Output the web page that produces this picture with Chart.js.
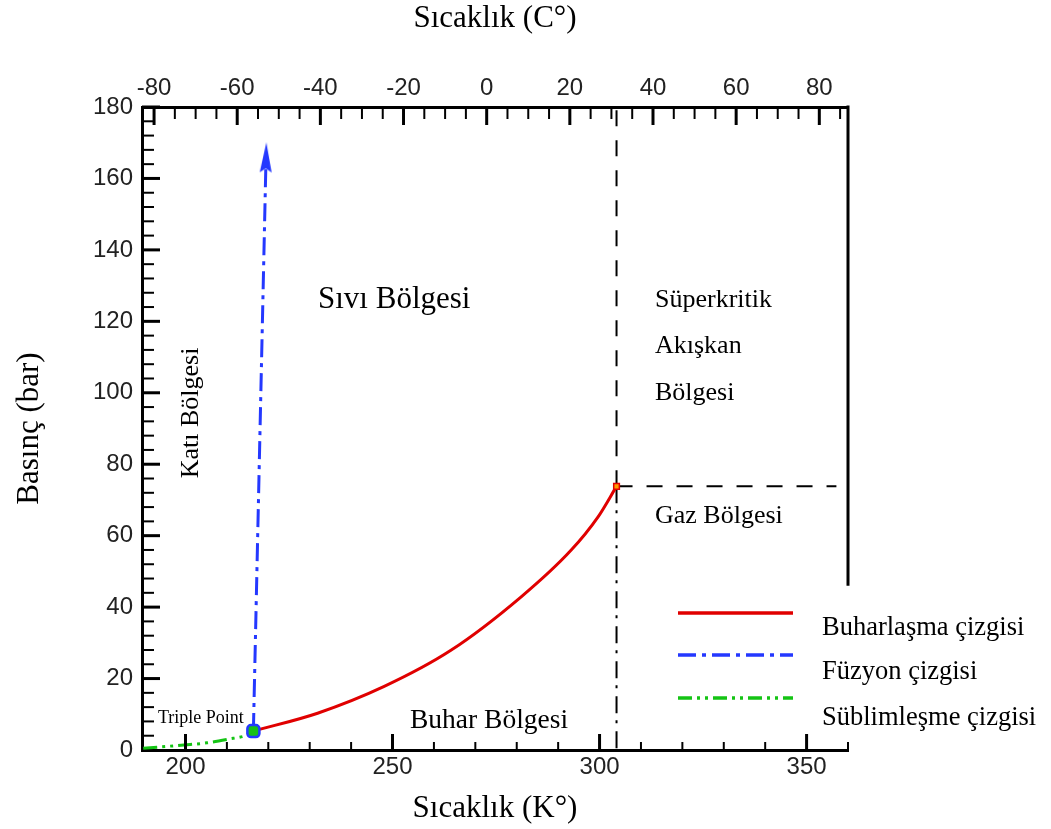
<!DOCTYPE html>
<html><head><meta charset="utf-8">
<script src="https://cdn.jsdelivr.net/npm/chart.js@4/dist/chart.umd.min.js"></script>
<style>html,body{margin:0;padding:0;background:#fff;}</style>
</head><body>
<canvas id="c" width="1051" height="829"></canvas>
<script>
// ---- data ----
const kelvinRange = [189.5, 360];
const celsiusRange = [-82.9, 86.9];
const pressureRange = [0, 180];

const kelvinTickLabels = [200, 250, 300, 350];
const celsiusTickLabels = [-80, -60, -40, -20, 0, 20, 40, 60, 80];
const pressureTickLabels = [0, 20, 40, 60, 80, 100, 120, 140, 160, 180];
const kelvinMinorStep = 10, celsiusMinorStep = 5, pressureMinorStep = 4;

const vapTemps = [216.4, 231.9, 248.0, 264.1, 281.0, 293.1, 299.6, 304.1];
const vapPress = [5.3, 10.3, 17.8, 27.9, 42.8, 55.9, 65.2, 73.8];
const fusTemps = [216.4, 219.45];
const fusPress = [5.3, 165.6];
const subTemps = [189.8, 199.6, 205.2, 210.1, 214.9, 216.4];
const subPress = [0.5, 1.4, 2.0, 3.0, 4.2, 5.3];
const triplePoint = [216.4, 5.3];
const criticalPoint = [304.1, 73.8];
const criticalLineEndK = 357.2;

const seriesNames = ['Buharlaşma çizgisi', 'Füzyon çizgisi', 'Süblimleşme çizgisi'];
const seriesColors = ['#e00000', '#2438ff', '#14c414'];
const seriesDashes = [[], [18, 6, 4, 6], [14, 5, 3, 5, 3, 5]];

const toPts = (xs, ys) => xs.map((x, i) => ({x, y: ys[i]}));
const stepTicks = (range, step) => {
  const out = [];
  for (let k = Math.ceil(range[0] / step); k * step <= range[1] + 1e-9; k++) out.push({value: Math.round(k * step * 1000) / 1000});
  return out;
};

// arrow head for the fusion line
const arrow = document.createElement('canvas');
arrow.width = 14; arrow.height = 32;
(() => { const g = arrow.getContext('2d'); g.fillStyle = seriesColors[1];
  g.beginPath(); g.moveTo(7, 0); g.lineTo(13, 30); g.lineTo(7, 26); g.lineTo(1, 30); g.closePath(); g.fill(); })();

const serif = '"Liberation Serif", "Times New Roman", serif';
const sans = '"Liberation Sans", Arial, sans-serif';

const labelsPlugin = {
  id: 'labelsPlugin',
  afterDraw(chart) {
    const ctx = chart.ctx, a = chart.chartArea;
    const sx = chart.scales.x, sx2 = chart.scales.x2, sy = chart.scales.y;
    ctx.save();
    ctx.strokeStyle = '#000';
    const line = (x1, y1, x2, y2, w) => { ctx.lineWidth = w; ctx.beginPath(); ctx.moveTo(x1, y1); ctx.lineTo(x2, y2); ctx.stroke(); };
    // inner ticks
    sx.ticks.forEach(t => { const v = t.value; const p = sx.getPixelForValue(v);
      if (p < a.left + 4) return; const mj = kelvinTickLabels.includes(v); line(p, a.bottom, p, a.bottom - (mj ? 16 : 8), mj ? 3 : 2); });
    sx2.ticks.forEach(t => { const v = t.value; const p = sx2.getPixelForValue(v);
      if (p < a.left + 4 || p > a.right - 4) return; const mj = celsiusTickLabels.includes(v); line(p, a.top, p, a.top + (mj ? 18 : 12), mj ? 3 : 2); });
    sy.ticks.forEach(t => { const v = t.value; const p = sy.getPixelForValue(v);
      if (p > a.bottom - 4) return; const mj = pressureTickLabels.includes(v); line(a.left, p, a.left + (mj ? 18 : 12), p, mj ? 3 : 2); });
    // right border (stops above the legend)
    line(a.right, a.top - 1.5, a.right, sy.getPixelForValue(46), 3);

    // region labels
    ctx.fillStyle = '#000';
    ctx.textBaseline = 'middle';
    ctx.textAlign = 'left';
    ctx.font = '31px ' + serif;
    ctx.fillText('Sıvı Bölgesi', 318, 300);
    ctx.font = '26px ' + serif;
    ctx.fillText('Süperkritik', 655, 300);
    ctx.fillText('Akışkan', 655, 346);
    ctx.fillText('Bölgesi', 655, 393);
    ctx.fillText('Gaz Bölgesi', 655, 516);
    ctx.font = '27.5px ' + serif;
    ctx.fillText('Buhar Bölgesi', 410, 721);
    ctx.font = '26px ' + serif;
    ctx.save(); ctx.translate(191, 413); ctx.rotate(-Math.PI / 2); ctx.textAlign = 'center';
    ctx.fillText('Katı Bölgesi', 0, 0); ctx.restore();
    ctx.font = '18px ' + serif;
    ctx.fillText('Triple Point', 158, 718);

    // legend
    const ly = [613, 655, 698], ty = [628, 672, 718];
    seriesNames.forEach((n, i) => {
      ctx.strokeStyle = seriesColors[i]; ctx.setLineDash(seriesDashes[i]);
      line(678, ly[i], 793, ly[i], 3.5);
      ctx.setLineDash([]);
      ctx.font = '26.5px ' + serif; ctx.fillStyle = '#000';
      ctx.fillText(n, 822, ty[i]);
    });
    ctx.restore();
  }
};

const black = '#000';
const axisBase = {
  type: 'linear',
  grid: { drawOnChartArea: false, drawTicks: false },
  border: { display: true, color: black, width: 3 }
};
const tickFont = { family: sans, size: 24 };
const titleFont = { family: serif, size: 31 };

new Chart(document.getElementById('c'), {
  type: 'scatter',
  data: {
    datasets: [
      { label: 'triple', data: [{x: triplePoint[0], y: triplePoint[1]}], pointStyle: 'rectRounded', pointRadius: 7,
        backgroundColor: '#18c018', borderColor: '#2438ff', borderWidth: 2.5, order: 0 },
      { label: 'critical', data: [{x: criticalPoint[0], y: criticalPoint[1]}], pointStyle: 'rect', pointRadius: 4,
        backgroundColor: '#ff9a00', borderColor: '#e00000', borderWidth: 1.5, order: 0 },
      { label: seriesNames[0], data: toPts(vapTemps, vapPress), showLine: true, borderColor: seriesColors[0],
        borderWidth: 3, pointRadius: 0, cubicInterpolationMode: 'monotone', order: 2 },
      { label: seriesNames[1], data: toPts(fusTemps, fusPress), showLine: true, borderColor: seriesColors[1],
        borderWidth: 3, borderDash: seriesDashes[1], order: 2,
        pointRadius: c => c.dataIndex === fusTemps.length - 1 ? 10 : 0,
        pointStyle: c => c.dataIndex === fusTemps.length - 1 ? arrow : 'circle', rotation: 1.3 },
      { label: seriesNames[2], data: toPts(subTemps, subPress), showLine: true, borderColor: seriesColors[2],
        borderWidth: 3, borderDash: seriesDashes[2], pointRadius: 0, cubicInterpolationMode: 'monotone', order: 2 },
      { label: 'crit-up', data: [{x: criticalPoint[0], y: criticalPoint[1]}, {x: criticalPoint[0], y: pressureRange[1]}],
        showLine: true, borderColor: black, borderWidth: 2, borderDash: [16, 14], pointRadius: 0, order: 3 },
      { label: 'crit-down', data: [{x: criticalPoint[0], y: criticalPoint[1]}, {x: criticalPoint[0], y: pressureRange[0]}],
        showLine: true, borderColor: black, borderWidth: 2, borderDash: [17, 7, 3, 8], pointRadius: 0, order: 3 },
      { label: 'crit-right', data: [{x: criticalPoint[0], y: criticalPoint[1]}, {x: criticalLineEndK, y: criticalPoint[1]}],
        showLine: true, borderColor: black, borderWidth: 2, borderDash: [16, 14], pointRadius: 0, order: 3 }
    ]
  },
  options: {
    responsive: false, animation: false, devicePixelRatio: 1,
    layout: { padding: { left: 0, right: 203, top: 0, bottom: 0 } },
    plugins: { legend: { display: false }, tooltip: { enabled: false } },
    scales: {
      x: { ...axisBase, position: 'bottom', min: kelvinRange[0], max: kelvinRange[1],
        afterFit: s => { s.height = 79; },
        afterBuildTicks: s => { s.ticks = stepTicks(kelvinRange, kelvinMinorStep); },
        ticks: { autoSkip: false, maxRotation: 0, padding: 3, color: '#222', font: tickFont,
          callback: v => (kelvinTickLabels.includes(v) ? String(v) : '') },
        title: { display: true, text: 'Sıcaklık (K°)', color: black, font: titleFont, padding: { top: 0, bottom: 2 } }
      },
      x2: { ...axisBase, position: 'top', min: celsiusRange[0], max: celsiusRange[1],
        afterFit: s => { s.height = 107; },
        afterBuildTicks: s => { s.ticks = stepTicks(celsiusRange, celsiusMinorStep); },
        ticks: { autoSkip: false, maxRotation: 0, padding: 4, color: '#222', font: tickFont,
          callback: v => (celsiusTickLabels.includes(v) ? String(v) : '') },
        title: { display: true, text: 'Sıcaklık (C°)', color: black, font: titleFont, padding: { top: 0, bottom: 0 } }
      },
      y: { ...axisBase, position: 'left', min: pressureRange[0], max: pressureRange[1],
        afterFit: s => { s.width = 142; },
        afterBuildTicks: s => { s.ticks = stepTicks(pressureRange, pressureMinorStep); },
        ticks: { autoSkip: false, padding: 9, color: '#222', font: tickFont,
          callback: v => (pressureTickLabels.includes(v) ? String(v) : '') },
        title: { display: true, text: 'Basınç (bar)', color: black, font: titleFont, padding: { top: 11, bottom: 0 } }
      }
    }
  },
  plugins: [labelsPlugin]
});
</script>
</body></html>
